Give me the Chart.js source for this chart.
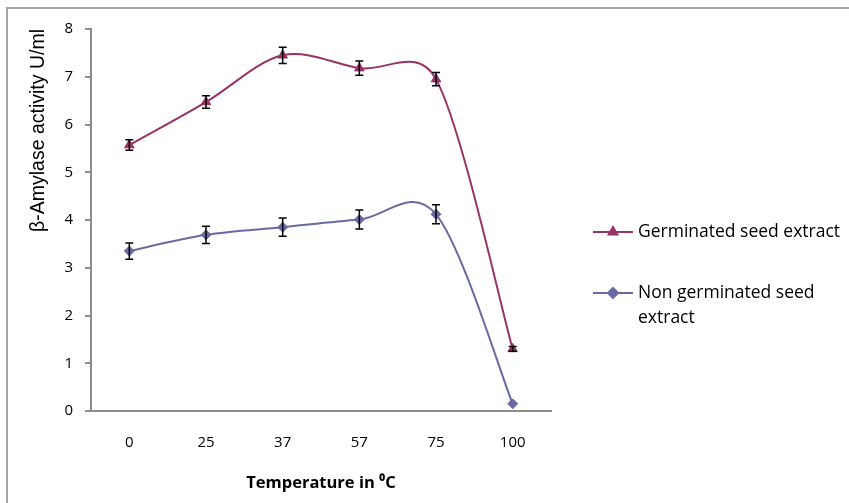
<!DOCTYPE html>
<html>
<head>
<meta charset="utf-8">
<script src="https://cdn.jsdelivr.net/npm/chart.js@4.4.1/dist/chart.umd.min.js"></script>
<style>
  html, body { margin: 0; padding: 0; background: #fff; }
  #wrap { position: relative; width: 849px; height: 503px; overflow: hidden; }
  #frame { position: absolute; left: 6px; top: 7px; width: 900px; height: 600px;
           border-left: 2px solid #a6a6a6; border-top: 2px solid #a6a6a6; box-sizing: border-box; }
  canvas { position: absolute; left: 0; top: 0; }
</style>
</head>
<body>
<div id="wrap">
  <div id="frame"></div>
  <canvas id="c" width="849" height="503"></canvas>
</div>
<script>
// ---- data ----
const categories = ['0', '25', '37', '57', '75', '100'];
const germinated = [5.57, 6.47, 7.45, 7.18, 6.95, 1.30];
const germinatedErr = [0.11, 0.13, 0.17, 0.15, 0.14, 0.05];
const nonGerminated = [3.35, 3.69, 3.85, 4.01, 4.12, 0.15];
const nonGerminatedErr = [0.17, 0.18, 0.19, 0.20, 0.20, 0.0];
const seriesNames = ['Germinated seed extract', ['Non germinated seed', 'extract']];
const yTitle = 'β-Amylase activity U/ml';
const xTitle = 'Temperature in ⁰C';

const colGerm = '#993366';
const colNon = '#6a6aa3';
const baseFamily = '"Open Sans", Lato, sans-serif';
const tickFont = { family: baseFamily, size: 15 };

// Excel-style smoothing: control points at 1/6 of the neighbour chord,
// limited to half the adjacent segment length.
const excelSmooth = {
  id: 'excelSmooth',
  beforeDatasetsDraw(chart) {
    chart.getSortedVisibleDatasetMetas().forEach(meta => {
      const line = meta.dataset;
      line.updateControlPoints(chart.chartArea, 'x');
      const pts = meta.data, n = pts.length;
      const lim = (a, b, vx, vy) => {
        const d = Math.hypot(b.x - a.x, b.y - a.y) / 2, m = Math.hypot(vx, vy);
        return (m > d && m > 0) ? d / m : 1;
      };
      for (let i = 0; i < n; i++) {
        const p = pts[i];
        const prev = pts[Math.max(i - 1, 0)], next = pts[Math.min(i + 1, n - 1)];
        const vx = (next.x - prev.x) / 6, vy = (next.y - prev.y) / 6;
        const sb = i > 0 ? lim(prev, p, vx, vy) : 0;
        const sa = i < n - 1 ? lim(p, next, vx, vy) : 0;
        p.cp1x = p.x - vx * sb; p.cp1y = p.y - vy * sb;
        p.cp2x = p.x + vx * sa; p.cp2y = p.y + vy * sa;
      }
      line._path = undefined;
    });
  }
};

const errorBars = {
  id: 'errorBars',
  afterDatasetsDraw(chart) {
    const ctx = chart.ctx;
    const xs = chart.scales.x, ys = chart.scales.y;
    ctx.save();
    ctx.strokeStyle = '#000';
    ctx.lineWidth = 1.5;
    chart.data.datasets.forEach(ds => {
      ds.data.forEach((v, i) => {
        const e = ds.errors[i];
        if (!e) return;
        const x = xs.getPixelForValue(i);
        const y1 = ys.getPixelForValue(v + e), y2 = ys.getPixelForValue(v - e);
        ctx.beginPath();
        ctx.moveTo(x, y1); ctx.lineTo(x, y2);
        ctx.moveTo(x - 4, y1); ctx.lineTo(x + 4, y1);
        ctx.moveTo(x - 4, y2); ctx.lineTo(x + 4, y2);
        ctx.stroke();
      });
    });
    ctx.restore();
  }
};

const customLegend = {
  id: 'customLegend',
  afterDraw(chart) {
    const ctx = chart.ctx;
    ctx.save();
    const entries = [
      { ds: chart.data.datasets[0], y: 232 },
      { ds: chart.data.datasets[1], y: 293 }
    ];
    entries.forEach(en => {
      const ds = en.ds;
      ctx.strokeStyle = ds.borderColor;
      ctx.lineWidth = 2;
      ctx.beginPath(); ctx.moveTo(593, en.y); ctx.lineTo(633, en.y); ctx.stroke();
      Chart.helpers.drawPoint(ctx, { pointStyle: ds.pointStyle, radius: 5, borderWidth: 1 }, 613, en.y);
      ctx.fillStyle = ds.borderColor;
      ctx.fill();
      ctx.fillStyle = '#000';
      ctx.font = '17.5px ' + baseFamily;
      ctx.textBaseline = 'middle';
      ctx.textAlign = 'left';
      const lines = Array.isArray(ds.label) ? ds.label : [ds.label];
      lines.forEach((t, k) => ctx.fillText(t, 638, en.y + k * 25));
    });
    ctx.restore();
  }
};

new Chart(document.getElementById('c'), {
  type: 'line',
  data: {
    labels: categories,
    datasets: [
      { label: seriesNames[0], data: germinated, errors: germinatedErr,
        borderColor: colGerm, backgroundColor: colGerm, borderWidth: 2,
        pointStyle: 'triangle', pointRadius: 5.5, pointBorderWidth: 1,
        pointBackgroundColor: colGerm, pointBorderColor: colGerm, tension: 0.4 },
      { label: seriesNames[1], data: nonGerminated, errors: nonGerminatedErr,
        borderColor: colNon, backgroundColor: colNon, borderWidth: 2,
        pointStyle: 'rectRot', pointRadius: 5, pointBorderWidth: 1,
        pointBackgroundColor: colNon, pointBorderColor: colNon, tension: 0.4 }
    ]
  },
  options: {
    responsive: false,
    animation: false,
    devicePixelRatio: 1,
    layout: { padding: { left: 27, top: 29, right: 298, bottom: 0 } },
    plugins: { legend: { display: false }, tooltip: { enabled: false } },
    scales: {
      x: {
        offset: true,
        grid: { display: false, drawTicks: false },
        border: { display: true, color: '#8c8c8c', width: 2 },
        ticks: { color: '#000', font: tickFont, padding: 23 },
        title: { display: true, text: xTitle, color: '#000',
                 font: { family: baseFamily, size: 16.5, weight: 'bold' },
                 padding: { top: 0, bottom: 10 } },
        afterFit(s) { s.height = 92; }
      },
      y: {
        min: 0, max: 8,
        ticks: { stepSize: 1, color: '#000', font: tickFont, padding: 12 },
        grid: { drawOnChartArea: false, drawTicks: true, tickLength: 6, color: '#8c8c8c', lineWidth: 2 },
        border: { display: true, color: '#8c8c8c', width: 2 },
        title: { display: true, text: yTitle, align: 'end', color: '#000',
                 font: { family: '"Liberation Sans", Arial, sans-serif', size: 19.5 },
                 padding: { top: 0, bottom: 0 } },
        afterFit(s) { s.width = 64; }
      }
    }
  },
  plugins: [excelSmooth, errorBars, customLegend]
});
</script>
</body>
</html>
